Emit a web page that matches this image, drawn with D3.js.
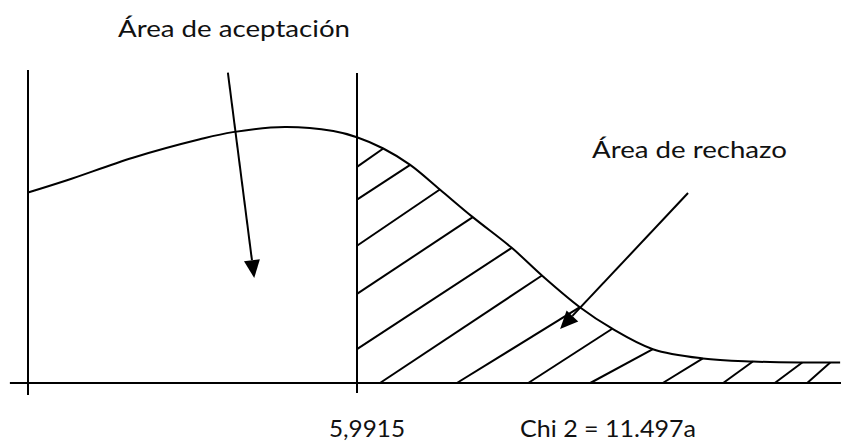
<!DOCTYPE html>
<html><head><meta charset="utf-8">
<script src="https://cdn.jsdelivr.net/npm/d3@7"></script>
<style>html,body{margin:0;padding:0;background:#fff;}svg{display:block;}</style>
</head><body>
<svg id="c" width="841" height="442"></svg>
<script>
// ---- data ----
const curveX = [0, 0.71, 1.91, 3.13, 3.73, 4.68, 5.56, 5.99, 6.47, 6.96, 7.50, 8.10, 8.81, 9.38, 10.05, 10.64, 11.38, 12.29, 13.20, 14.06, 14.79];
const curveY = [0.186, 0.198, 0.220, 0.238, 0.245, 0.250, 0.246, 0.240, 0.229, 0.213, 0.189, 0.162, 0.132, 0.104, 0.074, 0.053, 0.033, 0.024, 0.021, 0.020, 0.020];
const criticalValue = 5.9915;
// hatch lines starting on the critical-value line (start height) and ending on the curve (end x)
const wallHatchY    = [0.211, 0.179, 0.134, 0.087, 0.033];
const wallHatchEndX = [6.47, 6.96, 7.50, 8.10, 8.81];
// hatch lines starting on the baseline (start x) and ending on the curve (end x)
const baseHatchX    = [6.41, 7.81, 9.11, 10.24, 11.56, 12.66, 13.60, 14.19];
const baseHatchEndX = [9.36, 10.05, 10.64, 11.38, 12.29, 13.20, 14.10, 14.61];
const tickLabels = ["5,9915", "Chi 2 = 11.497a"];
const areaLabels = ["Área de aceptación", "Área de rechazo"];
// arrows: [fromX, fromY, toX, toY]
const arrowAccept = [3.64, 0.303, 4.12, 0.1025];
const arrowReject = [12.02, 0.1855, 9.69, 0.0527];

// ---- scales ----
const x = d3.scaleLinear().domain([0, criticalValue]).range([28, 357]);
const y = d3.scaleLinear().domain([0, 0.25]).range([383, 127]);

const svg = d3.select("#c");
const g = svg.append("g").attr("stroke", "#000").attr("stroke-width", 2).attr("fill", "none");
const font = "Lato, 'Open Sans', sans-serif";

// baseline
g.append("line").attr("x1", x(-0.33)).attr("x2", x(14.85)).attr("y1", y(0)).attr("y2", y(0));
// left vertical axis and critical value line
g.append("line").attr("x1", x(0)).attr("x2", x(0)).attr("y1", y(0.3057)).attr("y2", y(-0.0117));
g.append("line").attr("x1", x(criticalValue)).attr("x2", x(criticalValue)).attr("y1", y(0.3027)).attr("y2", y(-0.0098));

// curve
const pts = curveX.map((d, i) => [d, curveY[i]]);
const line = d3.line().x(d => x(d[0])).y(d => y(d[1])).curve(d3.curveCatmullRom.alpha(0.5));
const path = g.append("path").attr("d", line(pts));

// sample curve for intersection
const node = path.node();
const L = node.getTotalLength();
const samples = [];
for (let s = 0; s <= L; s += 0.5) { const p = node.getPointAtLength(s); samples.push(p); }
function curveYAtPx(px) {
  for (let i = 1; i < samples.length; i++) {
    const a = samples[i - 1], b = samples[i];
    if ((a.x <= px && b.x >= px)) {
      const t = b.x === a.x ? 0 : (px - a.x) / (b.x - a.x);
      return a.y + t * (b.y - a.y);
    }
  }
  return samples[samples.length - 1].y;
}

// hatch
wallHatchY.forEach((v, i) => {
  const ex = x(wallHatchEndX[i]);
  g.append("line").attr("x1", x(criticalValue)).attr("y1", y(v)).attr("x2", ex).attr("y2", curveYAtPx(ex));
});
baseHatchX.forEach((v, i) => {
  const ex = x(baseHatchEndX[i]);
  g.append("line").attr("x1", x(v)).attr("y1", y(0)).attr("x2", ex).attr("y2", curveYAtPx(ex));
});

// arrows
function arrow(a) {
  const x1 = x(a[0]), y1 = y(a[1]), x2 = x(a[2]), y2 = y(a[3]);
  const ang = Math.atan2(y2 - y1, x2 - x1);
  const len = 18, hw = 8;
  const bx = x2 - len * Math.cos(ang), by = y2 - len * Math.sin(ang);
  g.append("line").attr("x1", x1).attr("y1", y1).attr("x2", bx).attr("y2", by);
  const px = -Math.sin(ang) * hw, py = Math.cos(ang) * hw;
  g.append("path").attr("d", `M${x2},${y2}L${bx + px},${by + py}L${bx - px},${by - py}Z`)
    .attr("fill", "#000").attr("stroke", "none");
}
arrow(arrowAccept);
arrow(arrowReject);

// texts
const t = svg.append("g").attr("fill", "#111").style("font-family", font).style("font-size", "24px");
t.append("text").attr("x", 118).attr("y", 37).attr("textLength", 232).attr("lengthAdjust", "spacingAndGlyphs").text(areaLabels[0]);
t.append("text").attr("x", 592).attr("y", 158).attr("textLength", 195).attr("lengthAdjust", "spacingAndGlyphs").text(areaLabels[1]);
t.append("text").attr("x", 329).attr("y", 437).attr("textLength", 76).attr("lengthAdjust", "spacingAndGlyphs").text(tickLabels[0]);
t.append("text").attr("x", 520).attr("y", 437).attr("textLength", 176).attr("lengthAdjust", "spacingAndGlyphs").text(tickLabels[1]);
</script>
</body></html>
